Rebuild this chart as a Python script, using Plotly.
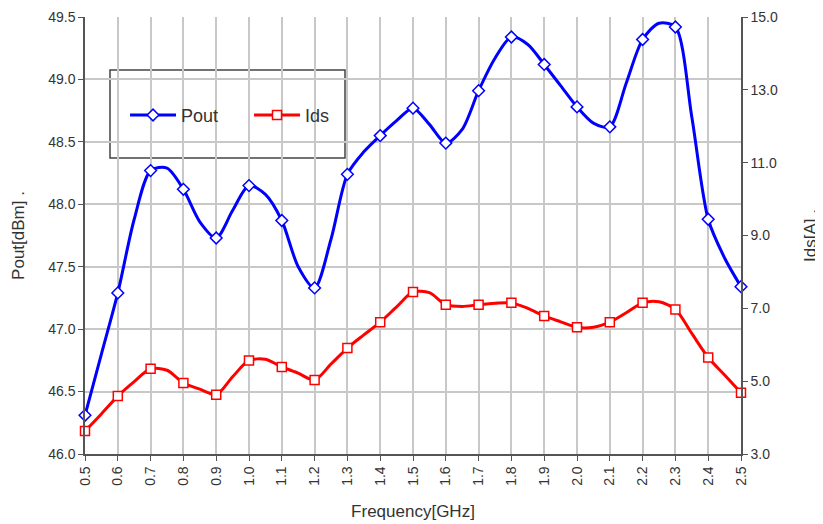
import plotly.graph_objects as go

# Frequency grid (GHz): smoothed data at 0.05 steps, markers every 0.1
freq = [0.50, 0.55, 0.60, 0.65, 0.70, 0.75, 0.80, 0.85, 0.90, 0.95,
        1.00, 1.05, 1.10, 1.15, 1.20, 1.25, 1.30, 1.35, 1.40, 1.45,
        1.50, 1.55, 1.60, 1.65, 1.70, 1.75, 1.80, 1.85, 1.90, 1.95,
        2.00, 2.05, 2.10, 2.15, 2.20, 2.25, 2.30, 2.35, 2.40, 2.45, 2.50]

pout = [46.31, 46.80, 47.29, 47.88, 48.27, 48.29, 48.12, 47.86, 47.73, 47.95,
        48.15, 48.08, 47.87, 47.50, 47.33, 47.72, 48.24, 48.42, 48.55, 48.67,
        48.77, 48.64, 48.49, 48.60, 48.91, 49.17, 49.34, 49.28, 49.12, 48.95,
        48.78, 48.65, 48.62, 48.97, 49.32, 49.45, 49.42, 48.70, 47.88, 47.57, 47.34]

ids = [3.63, 4.10, 4.59, 4.99, 5.34, 5.30, 4.95, 4.78, 4.63, 5.12,
       5.57, 5.60, 5.39, 5.22, 5.03, 5.47, 5.91, 6.27, 6.62, 7.04,
       7.45, 7.43, 7.10, 7.05, 7.10, 7.14, 7.15, 7.00, 6.79, 6.63,
       6.48, 6.48, 6.62, 6.88, 7.15, 7.18, 6.97, 6.31, 5.65, 5.17, 4.68]

freq_mark = freq[::2]
pout_mark = pout[::2]
ids_mark = ids[::2]

x_ticks = [f"{v:.1f}" for v in freq_mark]

BLUE = "#0000ff"
RED = "#ff0000"
FONT = "Liberation Sans, Arial, sans-serif"

fig = go.Figure()

# smooth lines
fig.add_trace(go.Scatter(x=freq, y=pout, mode="lines", line=dict(color=BLUE, width=3, shape="spline", smoothing=0.8),
                         showlegend=False, hoverinfo="skip", cliponaxis=False))
fig.add_trace(go.Scatter(x=freq, y=ids, mode="lines", line=dict(color=RED, width=3, shape="spline", smoothing=0.8),
                         showlegend=False, yaxis="y2", hoverinfo="skip", cliponaxis=False))
# markers
fig.add_trace(go.Scatter(x=freq_mark, y=pout_mark, mode="markers", cliponaxis=False,
                         marker=dict(symbol="diamond", size=9, color="white", line=dict(color=BLUE, width=1.5)),
                         showlegend=False))
fig.add_trace(go.Scatter(x=freq_mark, y=ids_mark, mode="markers", yaxis="y2", cliponaxis=False,
                         marker=dict(symbol="square", size=9, color="white", line=dict(color=RED, width=1.5)),
                         showlegend=False))
# legend entries
fig.add_trace(go.Scatter(x=[None], y=[None], mode="lines+markers", name="Pout",
                         line=dict(color=BLUE, width=3),
                         marker=dict(symbol="diamond", size=9, color="white", line=dict(color=BLUE, width=1.5))))
fig.add_trace(go.Scatter(x=[None], y=[None], mode="lines+markers", name="Ids",
                         line=dict(color=RED, width=3),
                         marker=dict(symbol="square", size=9, color="white", line=dict(color=RED, width=1.5))))

axis_common = dict(
    showline=True, linecolor="#555555", linewidth=1.5,
    ticks="outside", ticklen=5, tickcolor="#555555",
    tickfont=dict(family=FONT, size=14, color="#333333"),
    zeroline=False, automargin=False,
)

fig.update_layout(
    width=823, height=524,
    margin=dict(l=77, r=90, t=9, b=78),
    paper_bgcolor="white", plot_bgcolor="white",
    font=dict(family=FONT, color="#333333"),
    xaxis=dict(range=[0.5, 2.5], tickmode="array", tickvals=freq_mark, ticktext=x_ticks,
               tickangle=-90, showgrid=True, gridcolor="#c8c8c8", gridwidth=1.5,
               title=dict(text="Frequency[GHz]", font=dict(family=FONT, size=17, color="#333333"), standoff=20),
               **axis_common),
    yaxis=dict(range=[46.0, 49.5], dtick=0.5, tick0=46.0, tickformat=".1f",
               showgrid=True, gridcolor="#c8c8c8", gridwidth=1.5,
               title=dict(text="Pout[dBm] .", font=dict(family=FONT, size=17, color="#333333"), standoff=19),
               **axis_common),
    yaxis2=dict(range=[3.0, 15.0], dtick=2, tick0=3.0, tickformat=".1f", overlaying="y", side="right",
                showgrid=False,
                title=dict(text="Ids[A] .", font=dict(family=FONT, size=17, color="#333333"), standoff=27),
                **axis_common),
    legend=dict(orientation="h", x=0.061, y=0.775, xanchor="left", yanchor="middle",
                bgcolor="rgba(0,0,0,0)", borderwidth=0, entrywidth=63, itemwidth=46,
                font=dict(family=FONT, size=18, color="#333333")),
    shapes=[dict(type="rect", xref="paper", yref="paper",
                 x0=(110 - 85) / 656, x1=(345 - 85) / 656,
                 y0=1 - (158 - 17) / 437, y1=1 - (70 - 17) / 437,
                 line=dict(color="#444444", width=1.5), fillcolor="white", layer="below")],
)

fig.write_html("out.html")
